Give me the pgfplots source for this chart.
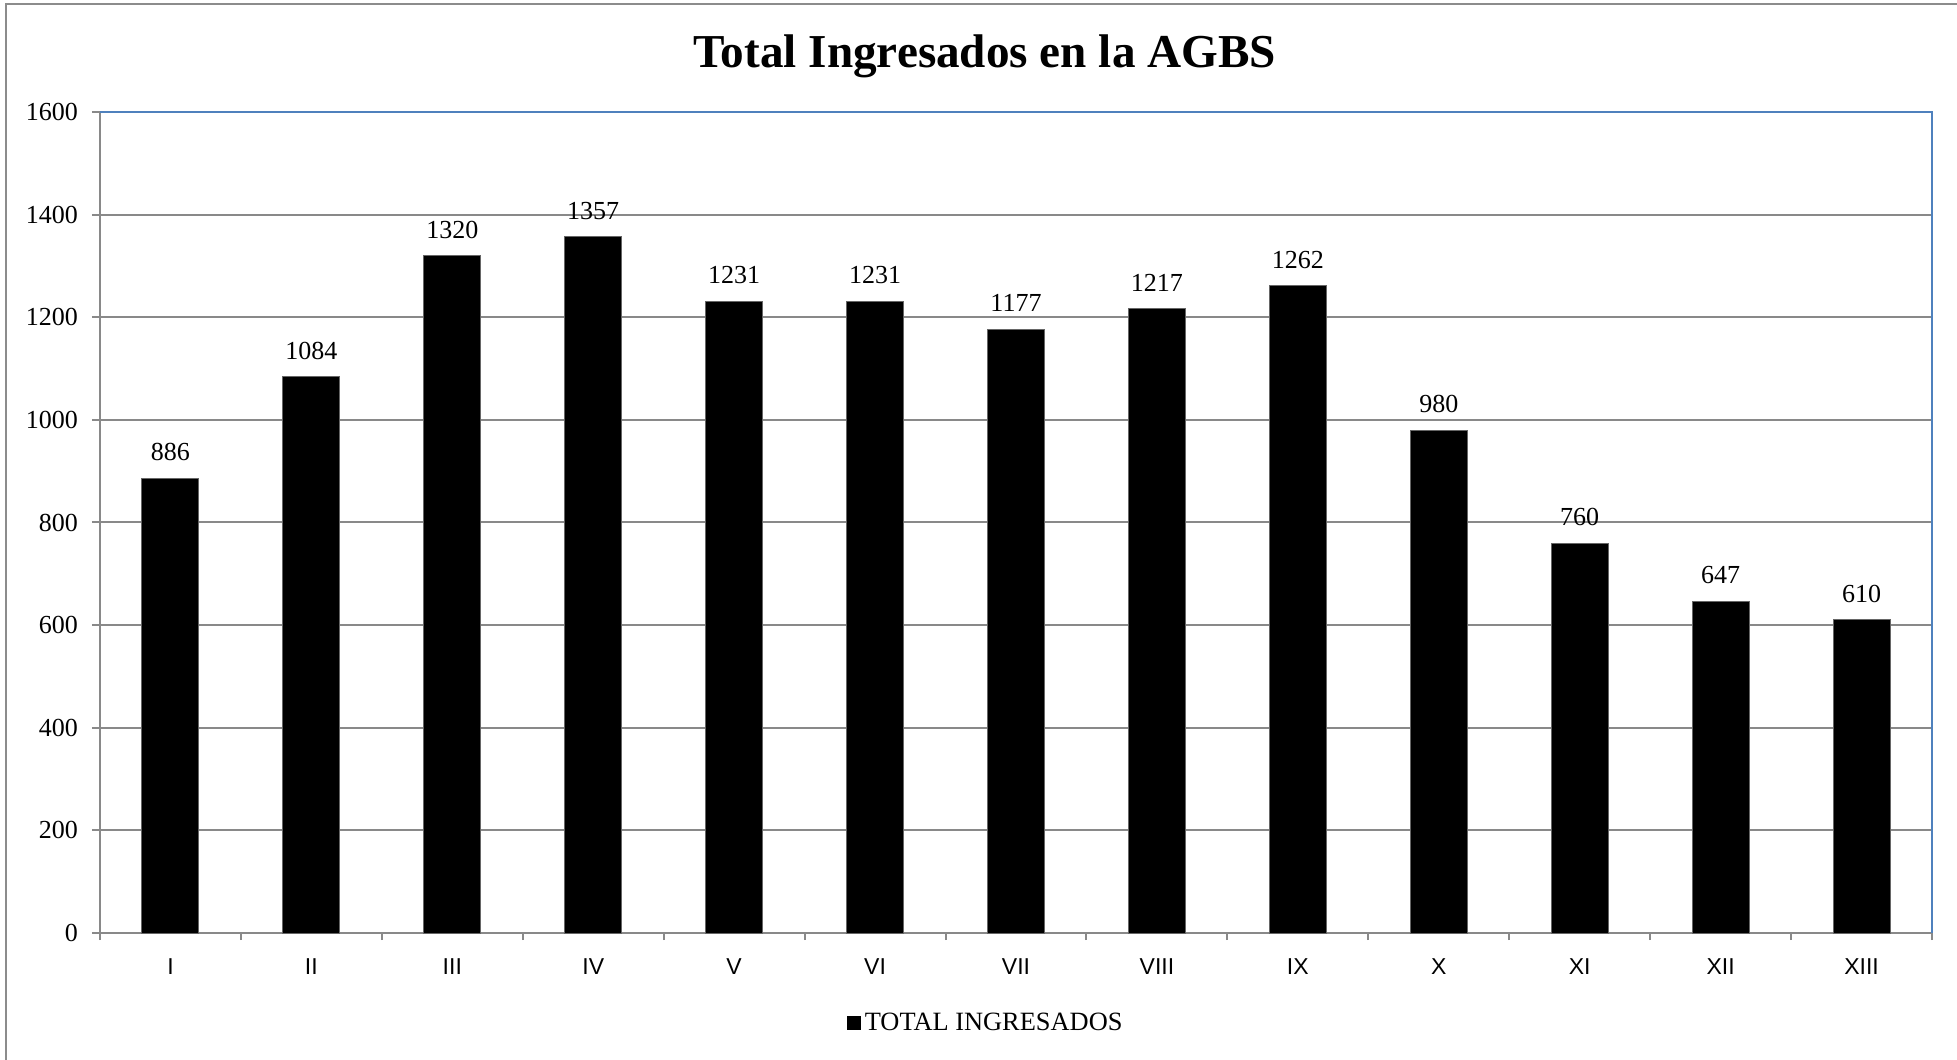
\documentclass[border=0pt]{standalone}
\usepackage{fontspec}
\setmainfont{Liberation Serif}
\newfontfamily\arialfont{Liberation Sans}
\usepackage{pgfplots}
\pgfplotsset{compat=1.18}
\definecolor{gridgray}{HTML}{898989}
\definecolor{frameblue}{HTML}{4F81BD}
\definecolor{bordergray}{HTML}{8C8C8C}
\definecolor{baseline}{HTML}{8C9AAE}

\begin{document}
\begin{tikzpicture}
\begin{axis}[
    name=ax, at={(0,0)}, anchor=south west,
    scale only axis, width=916pt, height=410.5pt,
    xmin=0.5, xmax=13.5, ymin=0, ymax=1600,
    ytick={0,200,...,1600},
    xtick={1,...,13},
    xticklabels={I,II,III,IV,V,VI,VII,VIII,IX,X,XI,XII,XIII},
    minor xtick={0.5,1.5,...,13.5},
    xtick pos=bottom, ytick pos=left,
    tick align=outside,
    major tick length=4pt, minor tick length=3.5pt,
    major x tick style={draw=none},
    tick style={gridgray, line width=1pt},
    ymajorgrids, grid style={gridgray, line width=1pt},
    axis line style={gridgray, line width=1pt},
    x axis line style={baseline},
    /pgf/number format/1000 sep={},
    /pgf/number format/assume math mode=true,
    yticklabel style={font=\fontsize{13}{15}\selectfont, xshift=-3.5pt},
    xticklabel style={font=\arialfont\fontsize{11.5}{13}\selectfont, yshift=-5.5pt},
    title={Total Ingresados en la AGBS},
    title style={font=\bfseries\fontsize{23.6}{28}\selectfont, at={(0.483,1)}, anchor=center, yshift=22pt},
    legend style={draw=none, at={(0.484,-0.1096)}, anchor=center, font=\fontsize{13.2}{15}\selectfont},
    after end axis/.code={
        \draw[frameblue, line width=1.2pt] (rel axis cs:0,1) -- (rel axis cs:1,1) -- (rel axis cs:1,0);
    },
]
\addplot[ybar, bar width=28.5pt, fill=black, draw=gray!80!black, line width=0.5pt,
    nodes near coords, every node near coord/.append style={font=\fontsize{13}{15}\selectfont, black, yshift=5pt},
    legend image code/.code={\fill[black] (0pt,-3.2pt) rectangle (6.5pt,3.3pt);}]
coordinates {
    (1,886) (2,1084) (3,1320) (4,1357) (5,1231) (6,1231) (7,1177)
    (8,1217) (9,1262) (10,980) (11,760) (12,647) (13,610)
};
\addlegendentry{TOTAL INGRESADOS}
\end{axis}
\draw[bordergray, line width=1pt] ([shift={(-47pt,-100pt)}]ax.south west) rectangle ([shift={(60pt,54pt)}]ax.north east);
\pgfresetboundingbox
\path[use as bounding box] ([shift={(-50pt,-63pt)}]ax.south west) rectangle ([shift={(12.5pt,56pt)}]ax.north east);
\end{tikzpicture}
\end{document}
